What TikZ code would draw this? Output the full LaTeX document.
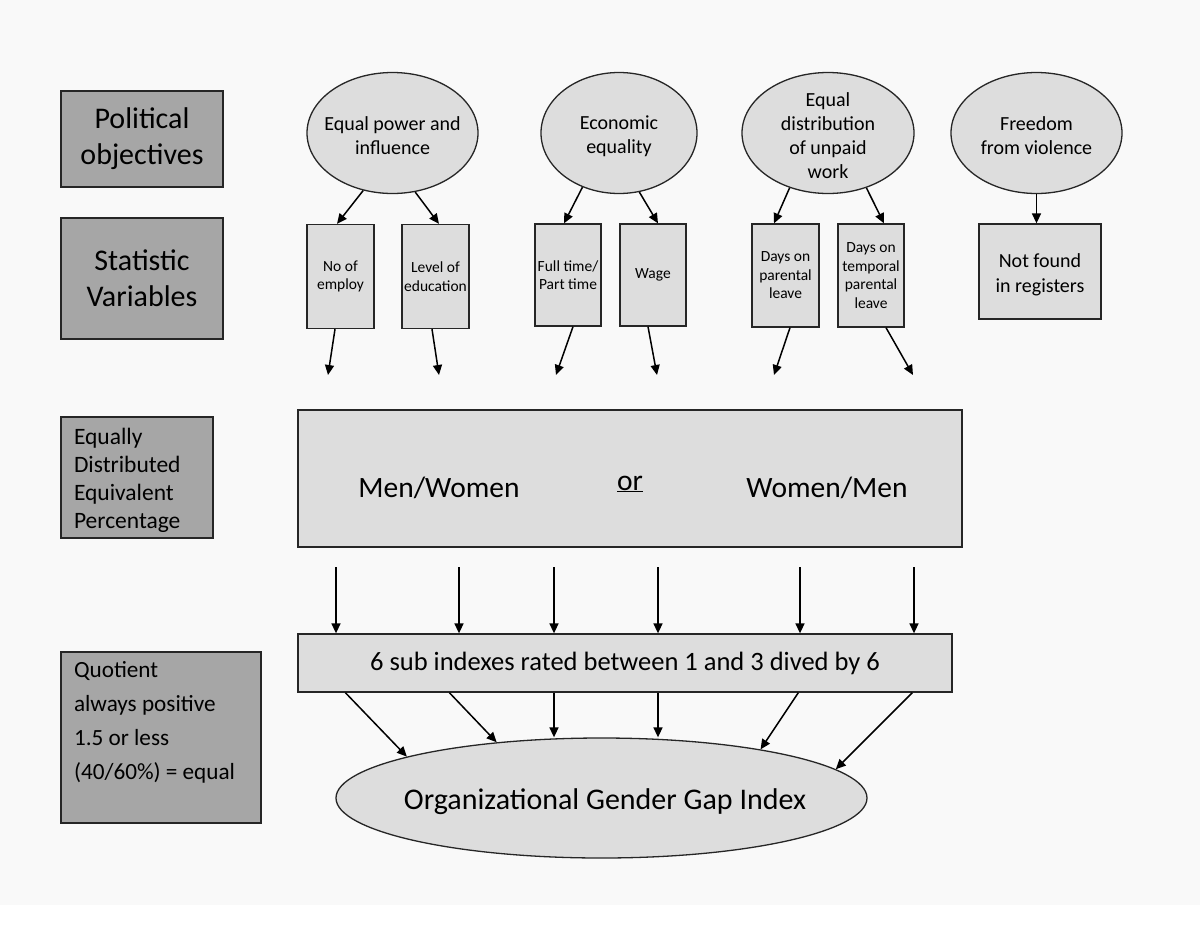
\documentclass[tikz,border=0pt]{standalone}
\usepackage{fontspec}
\setmainfont{Carlito}
\usetikzlibrary{shapes.geometric, calc, positioning, arrows.meta}

\definecolor{pagebg}{HTML}{F9F9F9}
\definecolor{darkbox}{HTML}{A6A6A6}
\definecolor{lightbox}{HTML}{DDDDDD}
\definecolor{edge}{HTML}{262626}

\begin{document}
\begin{tikzpicture}[x=1pt, y=-1pt, >={Triangle[length=10pt, width=9pt]},
    head/.style={draw=edge, line width=1.3pt, fill=darkbox, inner sep=0pt, align=center,
      font=\fontsize{30}{36}\selectfont},
    var/.style={draw=edge, line width=1.3pt, fill=lightbox, inner sep=0pt, align=center,
      font=\fontsize{15.5}{18.5}\selectfont, minimum width=67, minimum height=104},
    goal/.style={ellipse, draw=edge, line width=1.3pt, fill=lightbox, inner sep=0pt,
      minimum height=121},
    goaltext/.style={align=center, font=\fontsize{20}{24}\selectfont},
    ratio/.style={anchor=base, font=\fontsize{29.5}{34}\selectfont},
    arr/.style={->, line width=1.5pt}]

    % page
    \useasboundingbox (0,0) rectangle (1200,935);
    \fill[white] (0,0) rectangle (1200,935);
    \fill[pagebg] (0,0) rectangle (1200,905);

    % left column
    \node[head, minimum width=162, minimum height=96] (pol) at (142,139) {Political\\objectives};
    \node[head, minimum width=162, minimum height=121] (stat) at (142,278.5) {Statistic\\Variables};
    \node[head, align=left, text width=126, inner xsep=13, minimum height=121,
      font=\fontsize{23.5}{28}\selectfont] (edep) at (137,477.5)
      {\rule{0pt}{22pt}Equally\\Distributed\\Equivalent\\Percentage};
    \node[head, align=left, text width=174, inner xsep=13, minimum height=171,
      font=\fontsize{23.2}{34}\selectfont] (quo) at (161,737.5)
      {\spaceskip=0pt\xspaceskip=0pt Quotient\\always positive\\1.5 or less\\(40/60\%) = equal\\\mbox{}};

    % political objectives
    \node[goal, minimum width=171] (pow) at (392.5,133) {};
    \node[goaltext] (pow-t) at (392.5,136) {Equal power and\\influence};
    \node[goal, minimum width=156] (eco) at (619,133) {};
    \node[goaltext] (eco-t) at (619,136) {Economic\\equality};
    \node[goal, minimum width=172] (dis) at (828,133) {};
    \node[goaltext] (dis-t) at (828,136) {Equal\\distribution\\of unpaid\\work};
    \node[goal, minimum width=171] (vio) at (1036.5,133) {};
    \node[goaltext] (vio-t) at (1036.5,136) {Freedom\\from violence};

    % statistic variables
    \node[var] (emp) at (340.5,276.5) {No of\\employ};
    \node[var] (edu) at (435.5,276.5) {Level of\\education};
    \node[var, minimum width=66, minimum height=102] (ful) at (568,275) {Full time/\\Part time};
    \node[var, minimum width=66, minimum height=102] (wag) at (653,275) {Wage};
    \node[var, minimum height=103] (par) at (785.5,275.5) {Days on\\parental\\leave};
    \node[var, minimum width=66, minimum height=103] (tmp) at (871,275.5) {Days on\\temporal\\parental\\leave};
    \node[var, minimum width=122, minimum height=95, font=\fontsize{20}{25}\selectfont] (reg)
      at (1040,271.5) {\rule{0pt}{20pt}Not found\\in registers};

    \draw[arr] (pow.243) -- ($(emp.north)+(-3.5,0)$);
    \draw[arr] (pow.291) -- ($(edu.north)+(3.5,0)$);
    \draw[arr] (eco.236) -- ($(ful.north)+(-4,0)$);
    \draw[arr] (eco.289) -- ($(wag.north)+(5,0)$);
    \draw[arr] (dis.235) -- ($(par.north)+(-11.5,0)$);
    \draw[arr] (dis.305) -- ($(tmp.north)+(13,0)$);
    \draw[arr] (vio.south) -- (vio.south |- reg.north);

    \coordinate (o1) at (328,375);
    \coordinate (o2) at (439,375);
    \coordinate (o3) at (556,375);
    \coordinate (o4) at (657,375);
    \coordinate (o5) at (774,375);
    \coordinate (o6) at (913,375);
    \draw[arr] ($(emp.south)+(-5.5,0)$) -- (o1);
    \draw[arr] ($(edu.south)+(-3.5,0)$) -- (o2);
    \draw[arr] ($(ful.south)+(5,0)$) -- (o3);
    \draw[arr] ($(wag.south)+(-5,0)$) -- (o4);
    \draw[arr] ($(par.south)+(4.5,0)$) -- (o5);
    \draw[arr] ($(tmp.south)+(15,0)$) -- (o6);

    % ratio box
    \node[draw=edge, line width=1.3pt, fill=lightbox, minimum width=664, minimum height=137] (big)
      at (630,478.5) {};
    \node[ratio] (mw) at (439,497) {Men/Women};
    \node[ratio] (or) at (630,490) {\underline{or}};
    \node[ratio] (wm) at (827,497) {Women/Men};

    % sub indexes
    \node[draw=edge, line width=1.3pt, fill=lightbox, inner sep=0pt, minimum width=654,
      minimum height=58, font=\fontsize{26.5}{30}\selectfont] (sub) at (625,663)
      {6 sub indexes rated between 1 and 3 dived by 6};
    \foreach \x [count=\i] in {336,459,554,658,800,914} {
      \coordinate (in\i) at (\x,567);
      \draw[arr] (in\i) -- (in\i |- sub.north);
    }

    % index
    \node[goal, minimum width=531, minimum height=120] (ggi) at (601.5,798) {};
    \node[anchor=base, font=\fontsize{30}{36}\selectfont] (ggi-t) at (605,809)
      {Organizational Gender Gap Index};

    \draw[arr] ($(sub.south west)+(48,0)$) -- (ggi.168);
    \draw[arr] ($(sub.south west)+(152,0)$) -- (ggi.152);
    \draw[arr] (in3 |- sub.south) -- (in3 |- ggi.north);
    \draw[arr] (in4 |- sub.south) -- (in4 |- ggi.north);
    \draw[arr] ($(sub.south west)+(501,0)$) -- (ggi.17);
    \draw[arr] ($(sub.south west)+(615,0)$) -- (ggi.7.5);
\end{tikzpicture}
\end{document}
